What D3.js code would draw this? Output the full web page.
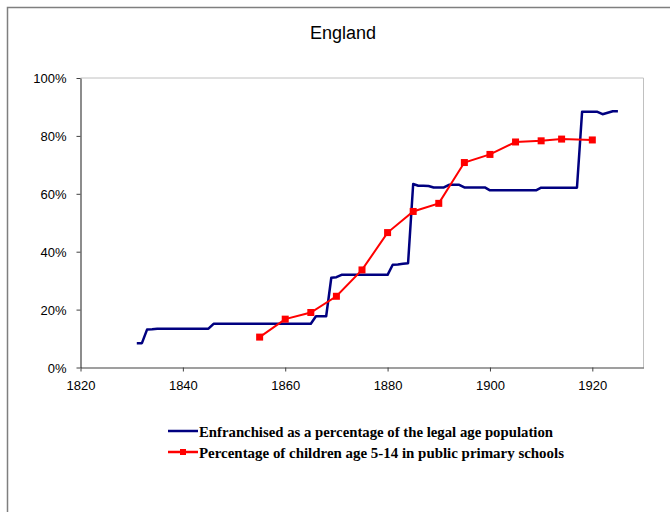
<!DOCTYPE html>
<html>
<head>
<meta charset="utf-8">
<script src="https://cdn.jsdelivr.net/npm/d3@7"></script>
<style>
  body { margin: 0; background: #fff; }
  svg { display: block; }
</style>
</head>
<body>
<div class="chart"></div>
<script>
// enfranchised share of legal age population, yearly
const franchiseYears = [
  1831, 1832, 1833, 1834, 1835, 1836, 1837, 1838, 1839, 1840,
  1841, 1842, 1843, 1844, 1845, 1846, 1847, 1848, 1849, 1850,
  1851, 1852, 1853, 1854, 1855, 1856, 1857, 1858, 1859, 1860,
  1861, 1862, 1863, 1864, 1865, 1866, 1867, 1868, 1869, 1870,
  1871, 1872, 1873, 1874, 1875, 1876, 1877, 1878, 1879, 1880,
  1881, 1882, 1883, 1884, 1885, 1886, 1887, 1888, 1889, 1890,
  1891, 1892, 1893, 1894, 1895, 1896, 1897, 1898, 1899, 1900,
  1901, 1902, 1903, 1904, 1905, 1906, 1907, 1908, 1909, 1910,
  1911, 1912, 1913, 1914, 1915, 1916, 1917, 1918, 1919, 1920,
  1921, 1922, 1923, 1924, 1925
]
const franchiseValues = [
  8.4, 8.4, 13.1, 13.2, 13.4, 13.4, 13.4, 13.4, 13.4, 13.4,
  13.4, 13.4, 13.4, 13.4, 13.4, 15.1, 15.1, 15.1, 15.1, 15.1,
  15.1, 15.1, 15.1, 15.1, 15.1, 15.1, 15.1, 15.1, 15.1, 15.1,
  15.1, 15.1, 15.1, 15.1, 15.1, 17.7, 17.7, 17.7, 31.0, 31.2,
  32.0, 32.0, 32.0, 32.0, 32.0, 32.0, 32.0, 32.0, 32.0, 32.0,
  35.5, 35.6, 35.8, 36.0, 63.4, 62.8, 62.8, 62.7, 62.2, 62.2,
  62.2, 63.1, 63.1, 63.1, 62.2, 62.2, 62.2, 62.2, 62.2, 61.2,
  61.2, 61.2, 61.2, 61.2, 61.2, 61.2, 61.2, 61.2, 61.2, 62.1,
  62.1, 62.1, 62.1, 62.1, 62.1, 62.1, 62.1, 88.3, 88.3, 88.3,
  88.3, 87.5, 88.0, 88.5, 88.5
]

// children 5-14 in public primary schools
const schoolYears = [1855, 1860, 1865, 1870, 1875, 1880, 1885, 1890, 1895, 1900, 1905, 1910, 1914, 1920]
const schoolValues = [10.5, 16.7, 19.0, 24.6, 33.7, 46.6, 53.9, 56.7, 70.8, 73.6, 77.9, 78.3, 78.9, 78.6]

const xTicks = [1820, 1840, 1860, 1880, 1900, 1920]
const yTicks = [0, 20, 40, 60, 80, 100]
const legendLabels = [
  "Enfranchised as a percentage of the legal age population",
  "Percentage of children age 5-14 in public primary schools"
]

function drawChart(){
    let config = {
        width: 670,
        height: 512,
        left: 80.5,
        right: 643.5,
        top: 78,
        bottom: 367.5
    }

    let svg = d3.select(".chart")
        .append("svg")
        .attr("width", config.width)
        .attr("height", config.height)

    // outer frame, runs off right and bottom edges
    svg.append("rect")
        .attr("x", 7.5)
        .attr("y", 7.5)
        .attr("width", 700)
        .attr("height", 600)
        .attr("fill", "none")
        .attr("stroke", "#7f7f7f")
        .attr("stroke-width", 1.5)

    svg.append("text")
        .attr("x", 343)
        .attr("y", 39)
        .attr("text-anchor", "middle")
        .attr("font-family", "Arial, 'Liberation Sans', sans-serif")
        .attr("font-size", 18)
        .attr("fill", "#000")
        .text("England")

    let x = d3.scaleLinear()
        .domain([1820, 1930])
        .range([config.left, config.right])

    let y = d3.scaleLinear()
        .domain([0, 100])
        .range([config.bottom, config.top])

    // plot area border (top + right are light gray)
    svg.append("path")
        .attr("d", `M${config.left},${config.top}H${config.right}V${config.bottom}`)
        .attr("fill", "none")
        .attr("stroke", "#c0c0c0")
        .attr("stroke-width", 1)

    let xAxis = d3.axisBottom(x)
        .tickValues(xTicks)
        .tickSize(4)
        .tickPadding(9)
        .tickSizeOuter(0)
        .tickFormat(d => d)

    let yAxis = d3.axisLeft(y)
        .tickValues(yTicks)
        .tickSize(4)
        .tickPadding(10)
        .tickSizeOuter(0)
        .tickFormat(d => d + "%")

    let gx = svg.append("g")
        .attr("transform", `translate(0,${config.bottom})`)
        .call(xAxis)
    let gy = svg.append("g")
        .attr("transform", `translate(${config.left},0)`)
        .call(yAxis)

    ;[gx, gy].forEach(g => {
        g.select(".domain").attr("stroke", "#404040").attr("stroke-width", 1.2)
        g.selectAll(".tick line").attr("stroke", "#404040")
        g.selectAll(".tick text")
            .attr("font-family", "Arial, 'Liberation Sans', sans-serif")
            .attr("font-size", 13)
            .attr("fill", "#000")
    })
    gy.selectAll(".tick text").attr("dy", "0.36em")

    let franchiseData = franchiseYears.map((d, i) => [d, franchiseValues[i]])
    let schoolData = schoolYears.map((d, i) => [d, schoolValues[i]])

    const line = d3.line()
        .x(d => x(d[0]))
        .y(d => y(d[1]))

    svg.append("path")
        .datum(franchiseData)
        .attr("fill", "none")
        .attr("stroke", "#000080")
        .attr("stroke-width", 2.5)
        .attr("stroke-linejoin", "round")
        .attr("d", line)

    svg.append("path")
        .datum(schoolData)
        .attr("fill", "none")
        .attr("stroke", "#ff0000")
        .attr("stroke-width", 2)
        .attr("d", line)

    svg.selectAll(".marker")
        .data(schoolData)
        .enter()
        .append("rect")
        .attr("class", "marker")
        .attr("x", d => x(d[0]) - 3.5)
        .attr("y", d => y(d[1]) - 3.5)
        .attr("width", 7)
        .attr("height", 7)
        .attr("fill", "#ff0000")

    // legend
    let legend = svg.append("g")
    let legendColors = ["#000080", "#ff0000"]
    let legendRows = [431, 452]
    let legendWidths = [354, 365]
    legendLabels.forEach((label, i) => {
        legend.append("line")
            .attr("x1", 168)
            .attr("x2", 198)
            .attr("y1", legendRows[i])
            .attr("y2", legendRows[i])
            .attr("stroke", legendColors[i])
            .attr("stroke-width", 2.5)
        if (i === 1) {
            legend.append("rect")
                .attr("x", 180)
                .attr("y", legendRows[i] - 3)
                .attr("width", 6)
                .attr("height", 6)
                .attr("fill", legendColors[i])
        }
        legend.append("text")
            .attr("x", 199)
            .attr("y", legendRows[i] + 5.5)
            .attr("font-family", "'Times New Roman', 'Liberation Serif', serif")
            .attr("font-size", 14)
            .attr("font-weight", "bold")
            .attr("textLength", legendWidths[i])
            .attr("lengthAdjust", "spacingAndGlyphs")
            .attr("fill", "#000")
            .text(label)
    })
}

drawChart()
</script>
</body>
</html>
